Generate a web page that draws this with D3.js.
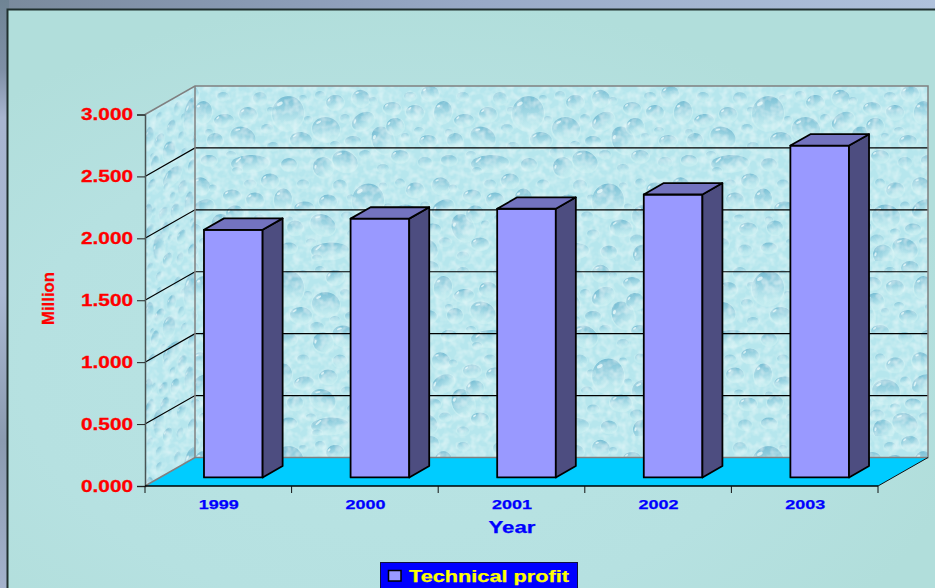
<!DOCTYPE html>
<html>
<head>
<meta charset="utf-8">
<script src="https://cdn.jsdelivr.net/npm/d3@7/dist/d3.min.js"></script>
<style>
html,body{margin:0;padding:0;background:#b3dfdd;overflow:hidden}
svg{display:block}
text{font-family:"Liberation Sans",Arial,sans-serif;font-weight:bold}
</style>
</head>
<body>
<svg id="chart" width="935" height="588"></svg>
<script>
// Chart data
const years = ["1999", "2000", "2001", "2002", "2003"];
const technicalProfit = [2.0, 2.09, 2.17, 2.285, 2.68];
const valueTicks = [0, 0.5, 1, 1.5, 2, 2.5, 3];
const seriesName = "Technical profit";

// Water-drop wallpaper: x, y, rx, ry, tilt of each drop in one row of the repeat
const drops = [
  [93,27,16,17,10],[131,43,14,12,10],[48,51,13,10,25],[188,54,11,14,-25],[106,54,11,8,5],
  [168,35,12,8,-30],[8,26,9,11,10],[29,34,10,6,-5],[53,28,9,7,0],[140,16,9,7,-10],
  [166,12,9,8,20],[197,22,9,6,0],[220,26,9,7,5],[200,40,9,8,-10],[235,7,9,7,0],
  [65,12,7,6,0],[158,55,8,5,0],[20,54,8,7,0],[233,55,9,6,0],[55,77,19,8,-3],
  [150,75,13,10,22],[128,81,10,10,-35],[28,10,6,4,0],[125,9,5,4,0],[14,46,4,3,0],
  [72,42,6,4,0],[113,33,4,3,0],[150,32,5,4,0],[178,14,4,3,0],[215,10,6,4,0],
  [224,44,5,3,0],[78,60,6,4,0],[122,66,7,5,0],[205,70,9,6,0],[170,68,6,4,0],
  [94,78,8,6,0],[14,74,8,5,0],[230,76,7,5,0],[36,68,5,3,0],[188,82,6,4,0],
  [76,24,4,3,0],[108,12,4,3,0],[210,50,4,3,0],[140,58,5,3,0],[42,84,5,3,0]
];
const tileW = 240, rowH = 87.5;

// Plot geometry: front plane plus the shift to the back wall
const plot = {left: 145, right: 878, top: 114.5, bottom: 486, dx: 50, dy: -28.5};
const barDepthStart = 0.3, barDepthEnd = 0.7;

const svg = d3.select("#chart");
const defs = svg.append("defs");

const x = d3.scaleBand().domain(years).range([plot.left, plot.right]).paddingInner(0.6).paddingOuter(0.3);
const xLabels = d3.scalePoint().domain(years).range([plot.left, plot.right]).padding(0.5);
const y = d3.scaleLinear().domain([0, 3]).range([plot.bottom, plot.top]);

// Gradients for the page, the panel and the drops
const stops = (g, list) => list.forEach(([o, c, a]) =>
  g.append("stop").attr("offset", o).attr("stop-color", c).attr("stop-opacity", a === undefined ? 1 : a));

stops(defs.append("linearGradient").attr("id", "topStrip"),
  [[0, "#7a8a9c"], [0.25, "#8899b2"], [0.5, "#98a9c6"], [1, "#b0c2dc"]]);
stops(defs.append("linearGradient").attr("id", "leftStrip").attr("x2", 0).attr("y2", 1),
  [[0, "#6f8494"], [0.12, "#7f90a6"], [0.2, "#a8b5d0"], [0.5, "#a9b8d2"], [0.75, "#8b9bb0"], [1, "#a4b2cc"]]);
stops(defs.append("radialGradient").attr("id", "panel").attr("cx", 0.42).attr("cy", 0.6).attr("r", 0.62),
  [[0, "#b9e4e4"], [0.65, "#b6e1e1"], [1, "#b1dedb"]]);
stops(defs.append("linearGradient").attr("id", "dropFill").attr("x1", 0.3).attr("y1", 0).attr("x2", 0.55).attr("y2", 1),
  [[0, "#74bbd2", 1], [0.5, "#93cfdf", 0.7], [1, "#b6e4ec", 0]]);

// Repeating wallpaper tile, two rows with the second shifted sideways
const tile = defs.append("pattern").attr("id", "water")
  .attr("patternUnits", "userSpaceOnUse")
  .attr("width", tileW).attr("height", rowH * 2)
  .attr("patternTransform", `translate(${plot.left + plot.dx},${plot.top + plot.dy})`);
tile.append("rect").attr("width", tileW).attr("height", rowH * 2).attr("fill", "#b6e6ed");

const rows = [[0, 0], [80, rowH]];
rows.forEach(([ox, oy]) => {
  [-tileW, 0, tileW].forEach(wrap => {
    const group = tile.append("g").attr("transform", `translate(${ox + wrap},${oy})`);
    drops.forEach(([cx, cy, rx, ry, tilt]) => {
      const strength = rx >= 8 ? 1 : 0.7;
      const d = group.append("g").attr("transform", `translate(${cx},${cy}) rotate(${tilt})`).attr("opacity", strength);
      d.append("ellipse").attr("cy", 0.8).attr("rx", rx + 1).attr("ry", ry + 1).attr("fill", "#d6f4f6").attr("opacity", 0.4);
      d.append("ellipse").attr("rx", rx).attr("ry", ry).attr("fill", "url(#dropFill)");
      if (rx >= 9) {
        d.append("ellipse").attr("cx", -rx * 0.6).attr("cy", -ry * 0.45)
          .attr("rx", Math.max(1.2, rx * 0.2)).attr("ry", Math.max(0.9, ry * 0.1))
          .attr("transform", `rotate(-40 ${-rx * 0.6} ${-ry * 0.45})`)
          .attr("fill", "#eefcfc").attr("opacity", 0.75);
      }
    });
  });
});

// Same wallpaper sheared onto the left side wall
defs.append("pattern").attr("id", "waterSide").attr("href", "#water")
  .attr("patternTransform", `translate(${plot.left},${plot.top}) matrix(0.5,${plot.dy / 100},0,1,0,0)`);

// Soft mottling and slight softening of the wallpaper, kept inside the shape
const soft = defs.append("filter").attr("id", "mottle").attr("x", 0).attr("y", 0).attr("width", 1).attr("height", 1);
soft.append("feGaussianBlur").attr("in", "SourceGraphic").attr("stdDeviation", 0.75).attr("result", "b");
soft.append("feTurbulence").attr("type", "fractalNoise").attr("baseFrequency", 0.14).attr("numOctaves", 2).attr("seed", 4).attr("result", "n");
soft.append("feColorMatrix").attr("in", "n").attr("type", "matrix")
  .attr("values", "0 0 0 0 0.86  0 0 0 0 0.97  0 0 0 0 0.97  1.1 0 0 0 -0.42").attr("result", "w");
soft.append("feComposite").attr("in", "w").attr("in2", "SourceAlpha").attr("operator", "in").attr("result", "wc");
const merge = soft.append("feMerge");
merge.append("feMergeNode").attr("in", "b");
merge.append("feMergeNode").attr("in", "wc");

// Page background and panel
svg.append("rect").attr("width", 935).attr("height", 12).attr("fill", "url(#topStrip)");
svg.append("rect").attr("width", 9).attr("height", 588).attr("fill", "url(#leftStrip)");
svg.append("rect").attr("x", 7.5).attr("y", 9.5).attr("width", 940).attr("height", 600)
  .attr("fill", "url(#panel)").attr("stroke", "#20302f").attr("stroke-width", 2);

// Projection of a front-plane point into the depth of the plot
const depth = (px, py, t) => [px + plot.dx * t, py + plot.dy * t];
const poly = pts => pts.map(p => p.join(",")).join(" ");
const L = plot.left, R = plot.right, T = plot.top, B = plot.bottom;

// Back wall, side wall, floor
svg.append("polygon").attr("filter", "url(#mottle)")
  .attr("points", poly([depth(L, T, 1), depth(R, T, 1), depth(R, B, 1), depth(L, B, 1)]))
  .attr("fill", "url(#water)");
svg.append("polygon").attr("filter", "url(#mottle)")
  .attr("points", poly([[L, T], depth(L, T, 1), depth(L, B, 1), [L, B]]))
  .attr("fill", "url(#waterSide)");
svg.append("polygon")
  .attr("points", poly([[L, B], depth(L, B, 1), depth(R, B, 1), [R, B]]))
  .attr("fill", "#00ccff");

// Grid lines on the two walls
const grid = svg.append("g");
valueTicks.slice(1, -1).forEach(v => {
  grid.append("polyline").attr("fill", "none").attr("stroke", "#000").attr("stroke-width", 1.2)
    .attr("points", poly([[L, y(v)], depth(L, y(v), 1), depth(R, y(v), 1)]));
});

// Grey wall outlines
svg.append("polyline").attr("fill", "none").attr("stroke", "#808080").attr("stroke-width", 1.5)
  .attr("points", poly([[L, T], depth(L, T, 1), depth(R, T, 1), depth(R, B, 1), depth(L, B, 1), [L, B]]));
svg.append("line").attr("stroke", "#808080").attr("stroke-width", 1.5)
  .attr("x1", L + plot.dx).attr("y1", T + plot.dy).attr("x2", L + plot.dx).attr("y2", B + plot.dy);
svg.append("line").attr("stroke", "#111").attr("stroke-width", 1)
  .attr("x1", R).attr("y1", B).attr("x2", R + plot.dx).attr("y2", B + plot.dy);

// Axes
const yAxis = svg.append("g").attr("transform", `translate(${L},0)`)
  .call(d3.axisLeft(y).tickValues(valueTicks).tickFormat(d3.format(".3f")).tickSize(8).tickPadding(4));
yAxis.select(".domain").attr("stroke", "#4a5555").attr("stroke-width", 1.5);
yAxis.selectAll(".tick line").attr("stroke", "#222").attr("stroke-width", 1);
yAxis.selectAll("text").attr("fill", "#ff0000").attr("font-size", 17)
  .attr("stroke", "#ff0000").attr("stroke-width", 0.3)
  .attr("textLength", 52).attr("lengthAdjust", "spacingAndGlyphs");

const xAxis = svg.append("g").attr("transform", `translate(0,${B})`)
  .call(d3.axisBottom(xLabels).tickSize(0).tickPadding(13));
xAxis.select(".domain").attr("stroke", "#000").attr("stroke-width", 1.5).attr("d", `M${L},0H${R}`);
xAxis.selectAll("text").attr("fill", "#0000ff").attr("font-size", 13.5)
  .attr("stroke", "#0000ff").attr("stroke-width", 0.25)
  .attr("textLength", 40).attr("lengthAdjust", "spacingAndGlyphs");
const step = x.step();
d3.range(years.length + 1).forEach(i => {
  xAxis.append("line").attr("stroke", "#111").attr("stroke-width", 1)
    .attr("x1", L + i * step).attr("x2", L + i * step).attr("y1", 0).attr("y2", 7);
});

// Axis titles
svg.append("text").attr("x", 512).attr("y", 533).attr("text-anchor", "middle")
  .attr("fill", "#0000ff").attr("stroke", "#0000ff").attr("stroke-width", 0.25).attr("font-size", 17)
  .attr("textLength", 47).attr("lengthAdjust", "spacingAndGlyphs").text("Year");
svg.append("text").attr("transform", "translate(54,298.5) rotate(-90)").attr("text-anchor", "middle")
  .attr("fill", "#ff0000").attr("stroke", "#ff0000").attr("stroke-width", 0.25).attr("font-size", 17)
  .attr("textLength", 53).attr("lengthAdjust", "spacingAndGlyphs").text("Million");

// 3D bars: each bar stands on the floor between two depth fractions
const bars = svg.append("g").selectAll("g").data(years.map((yr, i) => ({yr, v: technicalProfit[i]})))
  .join("g").attr("stroke", "#000").attr("stroke-width", 1.8).attr("stroke-linejoin", "round");

const corner = (d, side, level, t) => {
  const px = x(d.yr) + (side ? x.bandwidth() : 0);
  return depth(px, level ? y(d.v) : y(0), t);
};
// Front face
bars.append("polygon").attr("fill", "#9999ff").attr("points", d => poly([
  corner(d, 0, 1, barDepthStart), corner(d, 1, 1, barDepthStart),
  corner(d, 1, 0, barDepthStart), corner(d, 0, 0, barDepthStart)]));
// Right face
bars.append("polygon").attr("fill", "#4d4d80").attr("points", d => poly([
  corner(d, 1, 1, barDepthStart), corner(d, 1, 1, barDepthEnd),
  corner(d, 1, 0, barDepthEnd), corner(d, 1, 0, barDepthStart)]));
// Top face
bars.append("polygon").attr("fill", "#7373bf").attr("points", d => poly([
  corner(d, 0, 1, barDepthStart), corner(d, 0, 1, barDepthEnd),
  corner(d, 1, 1, barDepthEnd), corner(d, 1, 1, barDepthStart)]));

// Legend
const legend = svg.append("g");
legend.append("rect").attr("x", 380.5).attr("y", 562.5).attr("width", 197).attr("height", 30)
  .attr("fill", "#0000ff").attr("stroke", "#101040").attr("stroke-width", 1);
legend.append("rect").attr("x", 388.5).attr("y", 570.5).attr("width", 12.5).attr("height", 10.5)
  .attr("fill", "#9999ff").attr("stroke", "#000").attr("stroke-width", 1.5);
legend.append("text").attr("x", 409).attr("y", 582).attr("fill", "#ffff00").attr("stroke", "#ffff00").attr("stroke-width", 0.25).attr("font-size", 17)
  .attr("textLength", 160).attr("lengthAdjust", "spacingAndGlyphs").text(seriesName);
</script>
</body>
</html>
